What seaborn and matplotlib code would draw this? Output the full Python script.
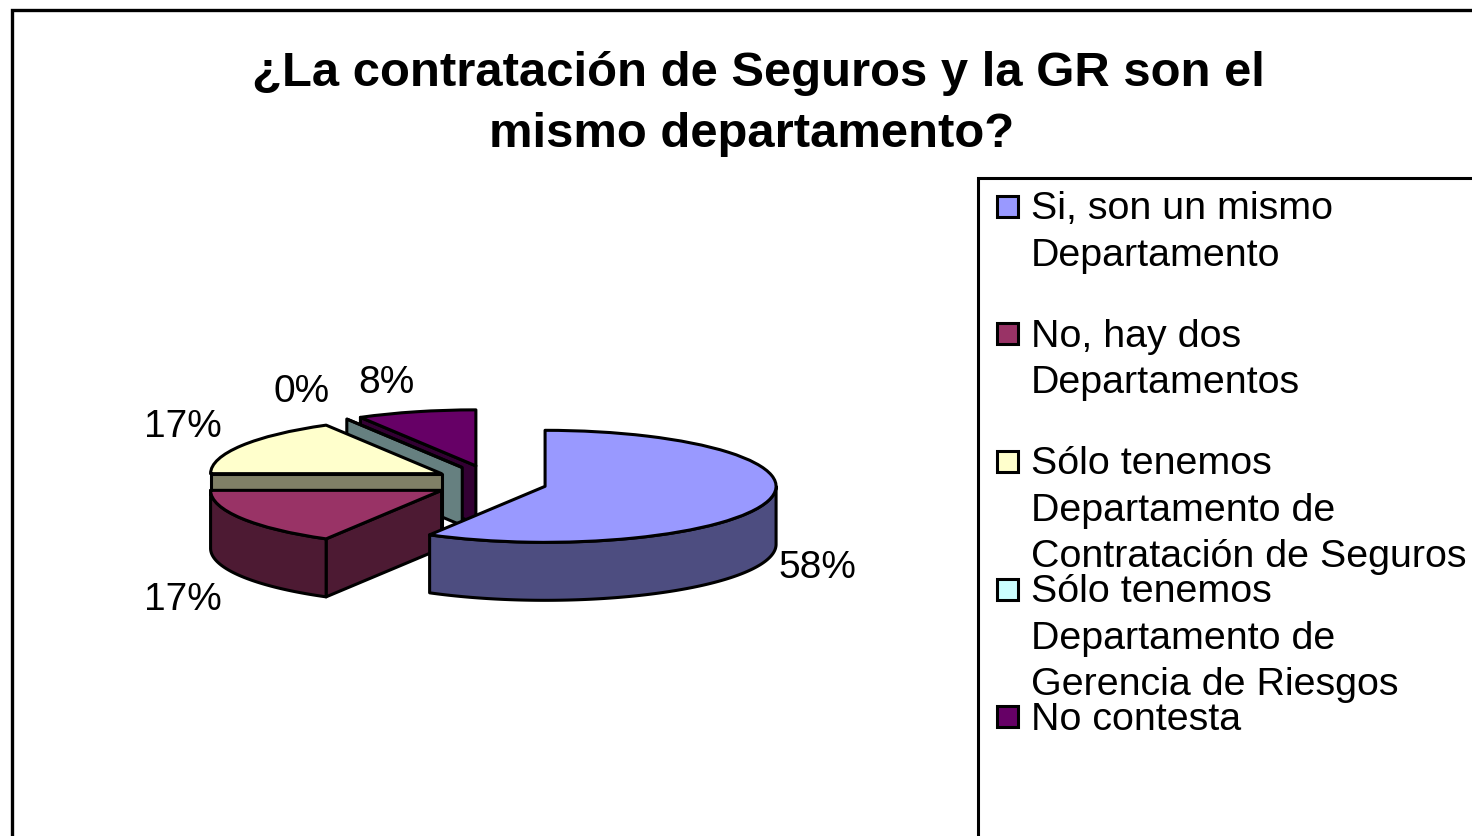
import numpy as np
import matplotlib
matplotlib.use("Agg")
import matplotlib.pyplot as plt
from matplotlib.patches import Rectangle
import seaborn as sns

categories = ["Si, son un mismo\nDepartamento",
              "No, hay dos\nDepartamentos",
              "Sólo tenemos\nDepartamento de\nContratación de Seguros",
              "Sólo tenemos\nDepartamento de\nGerencia de Riesgos",
              "No contesta"]
values = [58.33, 16.67, 16.67, 0.0, 8.33]
value_labels = ["58%", "17%", "17%", "0%", "8%"]
title = "¿La contratación de Seguros y la GR son el\nmismo departamento? "
top_colors = ["#9999FF", "#993366", "#FFFFCC", "#CCFFFF", "#660066"]
side_colors = ["#4D4D80", "#4D1A33", "#808066", "#668080", "#330033"]

W, H = 1472, 836
sns.set_theme(style="white")
plt.rcParams["font.family"] = ["Liberation Sans", "DejaVu Sans"]
fig = plt.figure(figsize=(W / 100, H / 100), dpi=100, facecolor="white")
ax = fig.add_axes([0, 0, 1, 1])

A = 231                   # horizontal radius in pixels
RATIO = 56 / A            # vertical squash of the pie
CX, CY = 490.5, 482       # un-exploded centre (pixels)
EX, EY = 56.5, 16.7       # explosion distance, horizontal / vertical (pixels)
DEPTH = 58                # extrusion height (pixels)
LW = 2.2


def Y(py):
    return (H - py) / RATIO


palette = sns.color_palette(top_colors)
wedges, _ = ax.pie(values, startangle=90, counterclock=False, radius=A,
                   center=(CX, Y(CY)), colors=palette,
                   wedgeprops=dict(edgecolor="black", linewidth=LW, joinstyle="round"))

fractions = np.array(values) / sum(values)
edges = np.concatenate([[0], np.cumsum(fractions)]) * 2 * np.pi
depth = DEPTH / RATIO
for i, wedge in enumerate(wedges):
    t0, t1 = edges[i], edges[i + 1]
    mid = (t0 + t1) / 2
    cx = CX + EX * np.sin(mid)
    cy = Y(CY) + EY / RATIO * np.cos(mid)
    wedge.set_center((cx, cy))
    z = 10 + 2 * (len(values) - i)
    wedge.set_zorder(z + 1)
    style = dict(facecolor=side_colors[i], edgecolor="black", linewidth=LW,
                 joinstyle="round", zorder=z)
    # radial faces, only those turned towards the viewer
    for t, visible in ((t0, np.sin(t0) < -1e-6), (t1, np.sin(t1) > 1e-6)):
        if visible:
            rx, ry = cx + A * np.sin(t), cy + A * np.cos(t)
            ax.fill([cx, rx, rx, cx], [cy, ry, ry - depth, cy - depth], **style)
    # outer curved face, front half only
    lo, hi = max(t0, np.pi / 2), min(t1, 3 * np.pi / 2)
    if hi > lo:
        th = np.linspace(lo, hi, 200)
        arc_x, arc_y = cx + A * np.sin(th), cy + A * np.cos(th)
        ax.fill(np.r_[arc_x, arc_x[::-1]], np.r_[arc_y, arc_y[::-1] - depth], **style)

ax.set_aspect("auto")
ax.set_xlim(0, W)
ax.set_ylim(0, H / RATIO)
ax.set_axis_off()

# value labels
label_pos = [(778, 568.5, "left"), (222, 600, "right"), (222, 427, "right"),
             (330, 392, "right"), (414, 383, "right")]
for txt, (px, py, ha) in zip(value_labels, label_pos):
    ax.text(px, Y(py), txt, fontsize=28, ha=ha, va="center", color="black", zorder=40)

# chart frame
ax.add_patch(Rectangle((12, Y(H + 20)), W + 30, (H + 10) / RATIO, fill=False,
                       edgecolor="black", linewidth=2.4, zorder=30))
# legend frame
ax.add_patch(Rectangle((978, Y(H + 20)), W, (H + 20 - 178) / RATIO, facecolor="white",
                       edgecolor="black", linewidth=2.2, zorder=30))

# legend entries
for i, cat in enumerate(categories):
    py = 206 + 127.7 * i
    ax.add_patch(Rectangle((997, Y(py + 10.5)), 21, 21 / RATIO, facecolor=palette[i],
                           edgecolor="black", linewidth=2.2, zorder=31))
    for j, line in enumerate(cat.split("\n")):
        ax.text(1031, Y(py - 1 + 46.5 * j), line, fontsize=28.4, ha="left",
                va="center_baseline", color="black", zorder=32)

# title
fig.text(758 / W, 1 - 104 / H, title, fontsize=35.3, fontweight="bold", ha="center",
         va="center", linespacing=1.44, color="black")

fig.savefig("out.png", dpi=100)
